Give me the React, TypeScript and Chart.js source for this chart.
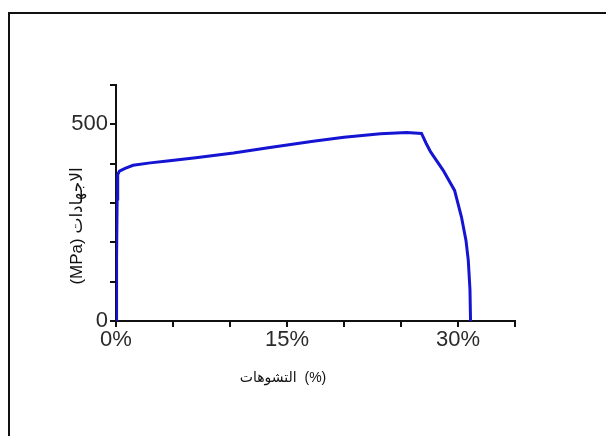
import React, { useEffect, useRef } from "react";
import { Chart, registerables } from "chart.js";

Chart.register(...registerables);

const strainPct = [0, 0.05, 0.1, 0.15, 0.3, 0.8, 1.5, 3, 4.5, 7, 10.3, 13.5, 17.3, 20, 23.2, 25.5, 26.8, 27.2, 27.6, 28.7, 29.7, 30.3, 30.7, 30.9, 31.05, 31.1];
const stressMPa = [0, 160, 310, 372, 381, 388, 396, 402, 407, 415, 427, 441, 457, 467, 476, 479, 477, 452, 430, 383, 332, 265, 205, 155, 80, 0];

const yLabeled = [0, 500];
const xLabeled = [0, 15, 30];
const xTitle = "التشوهات  (%)";
const yTitle = "(MPa) الاجهادات";

const FONT = "'Liberation Sans', Arial, 'DejaVu Sans', sans-serif";

export default function App() {
  const ref = useRef<HTMLCanvasElement | null>(null);

  useEffect(() => {
    if (!ref.current) return;
    const titlesPlugin = {
      id: "arabicTitles",
      afterDraw(chart: any) {
        const { ctx, chartArea } = chart;
        ctx.save();
        ctx.fillStyle = "#111";
        ctx.textAlign = "center";
        ctx.textBaseline = "middle";
        ctx.font = `14px ${FONT}`;
        ctx.fillText(xTitle, chartArea.left + 167, chartArea.bottom + 57);
        ctx.font = `17px ${FONT}`;
        ctx.translate(chartArea.left - 39, chartArea.bottom - 95);
        ctx.rotate(-Math.PI / 2);
        ctx.fillText(yTitle, 0, 0);
        ctx.restore();
      },
    };

    const chart = new Chart(ref.current, {
      type: "scatter",
      data: {
        datasets: [
          {
            data: strainPct.map((x, i) => ({ x, y: stressMPa[i] })),
            showLine: true,
            borderColor: "#1414d2",
            backgroundColor: "#1414d2",
            borderWidth: 3,
            pointRadius: 0,
            tension: 0,
          },
        ],
      },
      options: {
        animation: false,
        responsive: false,
        devicePixelRatio: 1,
        layout: { padding: { top: 85, right: 91, left: 0, bottom: 0 } },
        plugins: { legend: { display: false }, tooltip: { enabled: false } },
        scales: {
          x: {
            type: "linear",
            min: 0,
            max: 35,
            afterFit: (s: any) => {
              s.height = 115;
            },
            ticks: {
              stepSize: 5,
              color: "#2a2a2a",
              font: { size: 22, family: FONT },
              padding: 0,
              maxRotation: 0,
              autoSkip: false,
              callback: (v: any) => (xLabeled.includes(Number(v)) ? `${v}%` : ""),
            },
            grid: { drawOnChartArea: false, drawTicks: true, tickLength: 6, color: "#111", lineWidth: 2 },
            border: { color: "#111", width: 2 },
          },
          y: {
            min: 0,
            max: 600,
            afterFit: (s: any) => {
              s.width = 116;
            },
            ticks: {
              stepSize: 100,
              color: "#2a2a2a",
              font: { size: 22, family: FONT },
              padding: 2,
              autoSkip: false,
              callback: (v: any) => (yLabeled.includes(Number(v)) ? String(v) : ""),
            },
            grid: { drawOnChartArea: false, drawTicks: true, tickLength: 6, color: "#111", lineWidth: 2 },
            border: { color: "#111", width: 2 },
          },
        },
      },
      plugins: [titlesPlugin],
    });
    return () => chart.destroy();
  }, []);

  return (
    <div style={{ position: "fixed", left: 0, top: 0, width: 606, height: 436, background: "#fff", overflow: "hidden" }}>
      <div
        style={{
          position: "absolute",
          left: 8,
          top: 12,
          width: 596,
          height: 430,
          borderLeft: "2px solid #111",
          borderTop: "2px solid #111",
          borderRight: "1px solid #ddd",
        }}
      />
      <canvas ref={ref} width={606} height={436} style={{ position: "absolute", left: 0, top: 0 }} />
    </div>
  );
}
